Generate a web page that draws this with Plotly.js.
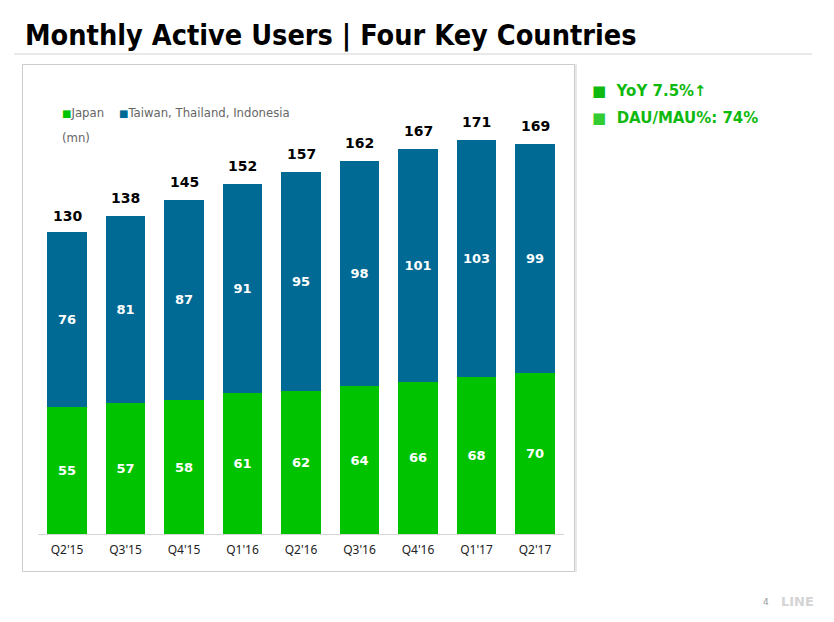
<!DOCTYPE html>
<html><head><meta charset="utf-8">
<script src="https://cdn.plot.ly/plotly-3.0.1.min.js"></script>
<style>body{margin:0;background:#fff}#c{width:834px;height:622px}</style>
</head><body><div id="c"></div>
<script>
const quarters = ["Q2'15","Q3'15","Q4'15","Q1'16","Q2'16","Q3'16","Q4'16","Q1'17","Q2'17"];
const japan = [55,57,58,61,62,64,66,68,70];
const others = [76,81,87,91,95,98,101,103,99];
const totals = [130,138,145,152,157,162,167,171,169];

const GREEN = '#00c300', BLUE = '#006a94';
const F = 'DejaVu Sans, Verdana, sans-serif';

const traces = [
  {type:'bar', x:quarters, y:japan, name:'Japan', marker:{color:GREEN},
   text:japan.map(String), textposition:'inside', insidetextanchor:'middle',
   textfont:{family:F, size:13, color:'#ffffff', weight:'bold'}, hoverinfo:'none'},
  {type:'bar', x:quarters, y:others, name:'Taiwan, Thailand, Indonesia', marker:{color:BLUE},
   text:others.map(String), textposition:'inside', insidetextanchor:'middle',
   textfont:{family:F, size:13, color:'#ffffff', weight:'bold'}, hoverinfo:'none'}
];

const annotations = quarters.map((q,i)=>({
  x:q, y:totals[i], xref:'x', yref:'y', text:String(totals[i]), showarrow:false,
  yanchor:'bottom', yshift:8, font:{family:F, size:14, color:'#000', weight:'bold'}
}));

annotations.push(
  {xref:'paper', yref:'paper', x:23/834, y:1-35/622, xanchor:'left', yanchor:'middle', showarrow:false,
   text:'<b>Monthly Active Users | Four Key Countries</b>', font:{family:'DejaVu Sans Condensed, DejaVu Sans, sans-serif', size:28.6, color:'#000'}},
  {xref:'paper', yref:'paper', x:60/834, y:1-113/622, xanchor:'left', yanchor:'middle', showarrow:false,
   text:"<span style='color:"+GREEN+";font-size:10px'>■</span>Japan    <span style='color:"+BLUE+";font-size:10px'>■</span>Taiwan, Thailand, Indonesia",
   font:{family:F, size:11.7, color:'#666'}},
  {xref:'paper', yref:'paper', x:60/834, y:1-138/622, xanchor:'left', yanchor:'middle', showarrow:false,
   text:'(mn)', font:{family:F, size:11.7, color:'#666'}},
  {xref:'paper', yref:'paper', x:590/834, y:1-91/622, xanchor:'left', yanchor:'middle', showarrow:false,
   text:"<b>■  YoY 7.5%↑</b>", font:{family:F, size:15, color:'#10b910'}},
  {xref:'paper', yref:'paper', x:590/834, y:1-118/622, xanchor:'left', yanchor:'middle', showarrow:false,
   text:"<b><span style='color:#33cc33'>■</span>  DAU/MAU%: 74%</b>", font:{family:F, size:15, color:'#10b910'}},
  {xref:'paper', yref:'paper', x:766/834, y:1-602/622, xanchor:'center', yanchor:'middle', showarrow:false,
   text:'4', font:{family:F, size:9, color:'#999'}},
  {xref:'paper', yref:'paper', x:797/834, y:1-601/622, xanchor:'center', yanchor:'middle', showarrow:false,
   text:'<b>LINE</b>', font:{family:F, size:13, color:'#d4d4d4'}}
);

const layout = {
  width:834, height:622, margin:{l:0,r:0,t:0,b:0},
  paper_bgcolor:'#fff', plot_bgcolor:'rgba(0,0,0,0)',
  barmode:'stack', bargap:0.333, showlegend:false,
  xaxis:{domain:[37.75/834, 564.25/834], showline:true, linecolor:'#d6d6d6', linewidth:1,
    ticks:'', ticklabelstandoff:5, tickfont:{family:'Noto Sans, sans-serif', size:12, color:'#222'}, fixedrange:true},
  yaxis:{domain:[(622-534)/622, (622-119)/622], range:[0,180], visible:false, showgrid:false, zeroline:false},
  shapes:[
    {type:'line', xref:'paper', yref:'paper', x0:14/834, x1:812/834, y0:1-54/622, y1:1-54/622, line:{color:'#d3d3d3', width:1}},
    {type:'rect', xref:'paper', yref:'paper', x0:22.5/834, x1:574.5/834, y0:1-64.5/622, y1:1-571.5/622, line:{color:'#cccccc', width:1}},
    {type:'line', xref:'paper', yref:'paper', x0:576/834, x1:576/834, y0:1-64/622, y1:1-572/622, line:{color:'#e8e8e8', width:2}}
  ],
  annotations:annotations
};
Plotly.newPlot('c', traces, layout, {displayModeBar:false, staticPlot:true});
</script></body></html>
